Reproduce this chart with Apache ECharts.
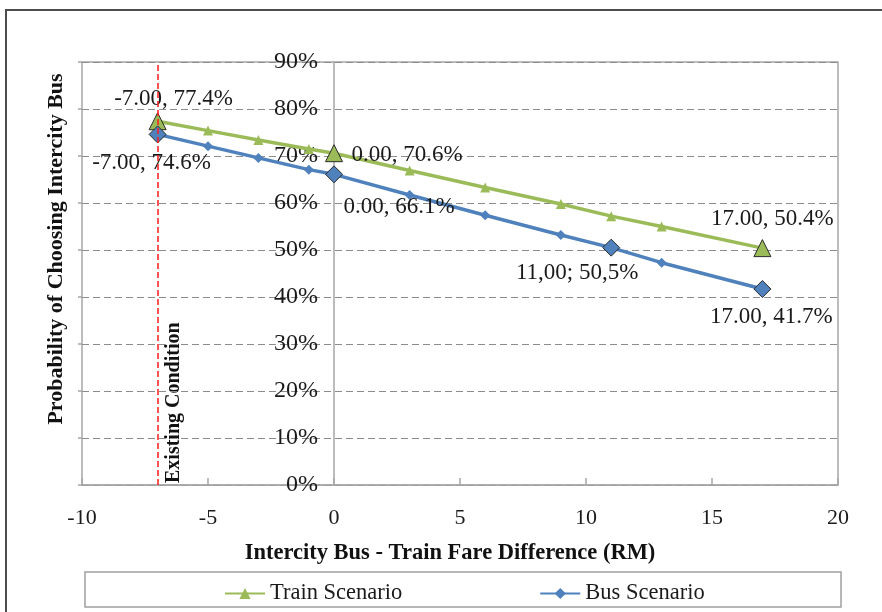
<!DOCTYPE html>
<html>
<head>
<meta charset="utf-8">
<script src="https://cdn.jsdelivr.net/npm/echarts@6/dist/echarts.min.js"></script>
<style>
  html, body { margin: 0; padding: 0; background: #fff; }
  #chart { width: 882px; height: 612px; }
</style>
</head>
<body>
<div id="chart"></div>
<script>
// Fare difference (intercity bus minus train), RM
const fareDiff = [-7, -5, -3, -1, 0, 3, 6, 9, 11, 13, 17];
// Probability of choosing intercity bus, %
const trainProb = [77.4, 75.4, 73.4, 71.5, 70.6, 66.9, 63.3, 59.8, 57.2, 55.0, 50.4];
const busProb   = [74.6, 72.1, 69.6, 67.1, 66.1, 61.7, 57.4, 53.2, 50.5, 47.3, 41.7];
// Points that carry a value callout
const trainLabelled = [-7, 0, 17];
const busLabelled = [-7, 0, 11, 17];
// Callout written with decimal commas
const busCommaLabel = [11];
// Existing fare difference
const existingFare = -7;

const serif = "'Times New Roman', 'Liberation Serif', serif";
const green = '#9bbb59';
const blue = '#4f81bd';
const gridLeft = 82;

// callout placement relative to its point (label centre minus point centre)
const trainOffsets = { '-7': [16, -22], '0': [73, 2], '17': [10, -29] };
const busOffsets = { '-7': [-6, 29], '0': [65, 33], '11': [-34, 25], '17': [9, 28] };

function calloutText(v, comma) {
  if (comma) {
    return v[0].toFixed(2).replace('.', ',') + '; ' + v[1].toFixed(1).replace('.', ',') + '%';
  }
  return v[0].toFixed(2) + ', ' + v[1].toFixed(1) + '%';
}

function buildData(xs, ys, labelled, offsets, commaList) {
  return xs.map((x, i) => {
    const item = { value: [x, ys[i]] };
    if (labelled.includes(x)) {
      const comma = commaList.includes(x);
      item.symbolSize = 17;
      item.itemStyle = { borderColor: '#2b2b2b', borderWidth: 1 };
      item.label = {
        show: true,
        position: 'inside',
        offset: offsets[String(x)],
        formatter: p => calloutText(p.value, comma)
      };
    }
    return item;
  });
}

const chart = echarts.init(document.getElementById('chart'), null, { renderer: 'canvas' });

const labelStyle = { fontFamily: serif, fontSize: 23, color: '#1a1a1a' };

chart.setOption({
  animation: false,
  backgroundColor: '#ffffff',
  grid: {
    left: gridLeft, right: 44, top: 62, bottom: 127,
    show: true, borderColor: '#a6a6a6', borderWidth: 1.5, backgroundColor: 'transparent'
  },
  xAxis: {
    type: 'value',
    min: -10, max: 20, interval: 5,
    name: 'Intercity Bus - Train Fare Difference (RM)',
    nameLocation: 'middle',
    nameGap: 57,
    nameTextStyle: {
      fontFamily: serif, fontSize: 22.5, fontWeight: 'bold', color: '#111',
      padding: [0, 20, 0, 0]
    },
    axisLine: { show: true, lineStyle: { color: '#a6a6a6', width: 1.5 } },
    axisTick: { show: true, inside: true, length: 7, lineStyle: { color: '#a6a6a6', width: 1.5 } },
    axisLabel: { margin: 22, fontFamily: serif, fontSize: 22, color: '#1a1a1a' },
    splitLine: { show: false }
  },
  yAxis: [
    {
      type: 'value',
      min: 0, max: 90, interval: 10,
      position: 'left',
      axisLine: { show: true, onZero: false, lineStyle: { color: '#a6a6a6', width: 1.5 } },
      axisTick: { show: false },
      axisLabel: { margin: 16, fontFamily: serif, fontSize: 24, color: '#1a1a1a', formatter: '{value}%' },
      splitLine: { show: true, lineStyle: { color: '#8c8c8c', type: [7, 4], width: 1.2 } }
    },
    {
      type: 'value',
      min: 0, max: 90, interval: 10,
      position: 'left',
      offset: 0,
      axisLine: { show: false, onZero: false },
      axisTick: { show: true, length: 4, lineStyle: { color: '#a6a6a6', width: 1.5 } },
      axisLabel: { show: false },
      splitLine: { show: false }
    }
  ],
  legend: {
    left: 219, top: 577,
    itemWidth: 40, itemHeight: 14, itemGap: 137,
    textStyle: { fontFamily: serif, fontSize: 22.5, color: '#1a1a1a' },
    data: ['Train Scenario', 'Bus Scenario']
  },
  graphic: [
    {
      type: 'rect', silent: true, z: -1,
      shape: { x: 6, y: 10, width: 900, height: 700 },
      style: { fill: 'none', stroke: '#4d4d4d', lineWidth: 2 }
    },
    {
      type: 'rect', silent: true,
      shape: { x: 85, y: 572, width: 756, height: 35 },
      style: { fill: 'none', stroke: '#a0a0a0', lineWidth: 1.5 }
    },
    {
      type: 'text', silent: true,
      x: 56, y: 249, rotation: Math.PI / 2,
      style: {
        text: 'Probability of Choosing Intercity Bus',
        fontFamily: serif, fontSize: 22, fontWeight: 'bold', fill: '#111',
        align: 'center', verticalAlign: 'middle'
      }
    }
  ],
  series: [
    {
      name: 'Train Scenario',
      type: 'line',
      data: buildData(fareDiff, trainProb, trainLabelled, trainOffsets, []),
      symbol: 'triangle',
      symbolSize: 10,
      showAllSymbol: true,
      lineStyle: { color: green, width: 3.5 },
      itemStyle: { color: green },
      label: labelStyle,
      z: 3,
      markLine: {
        silent: true,
        symbol: 'none',
        animation: false,
        lineStyle: { color: '#ff1a1a', type: [6, 3], width: 1.5 },
        label: { show: false },
        data: [{ xAxis: existingFare }]
      }
    },
    {
      name: 'Bus Scenario',
      type: 'line',
      data: buildData(fareDiff, busProb, busLabelled, busOffsets, busCommaLabel),
      symbol: 'diamond',
      symbolSize: 10,
      showAllSymbol: true,
      lineStyle: { color: blue, width: 3.5 },
      itemStyle: { color: blue },
      label: labelStyle,
      z: 4
    }
  ]
});

// The value axis crosses the fare axis at zero; the annotation sits beside the existing-fare line.
const zeroX = chart.convertToPixel({ xAxisIndex: 0 }, 0);
const existX = chart.convertToPixel({ xAxisIndex: 0 }, existingFare);
const baseY = chart.convertToPixel({ yAxisIndex: 0 }, 0);
chart.setOption({
  yAxis: [{ offset: gridLeft - zeroX }, {}],
  graphic: [
    {}, {}, {},
    {
      type: 'text', silent: true,
      x: existX + 16, y: baseY - 2, rotation: Math.PI / 2,
      style: {
        text: 'Existing Condition',
        fontFamily: serif, fontSize: 20, fontWeight: 'bold', fill: '#111',
        align: 'left', verticalAlign: 'middle'
      }
    }
  ]
});
</script>
</body>
</html>
